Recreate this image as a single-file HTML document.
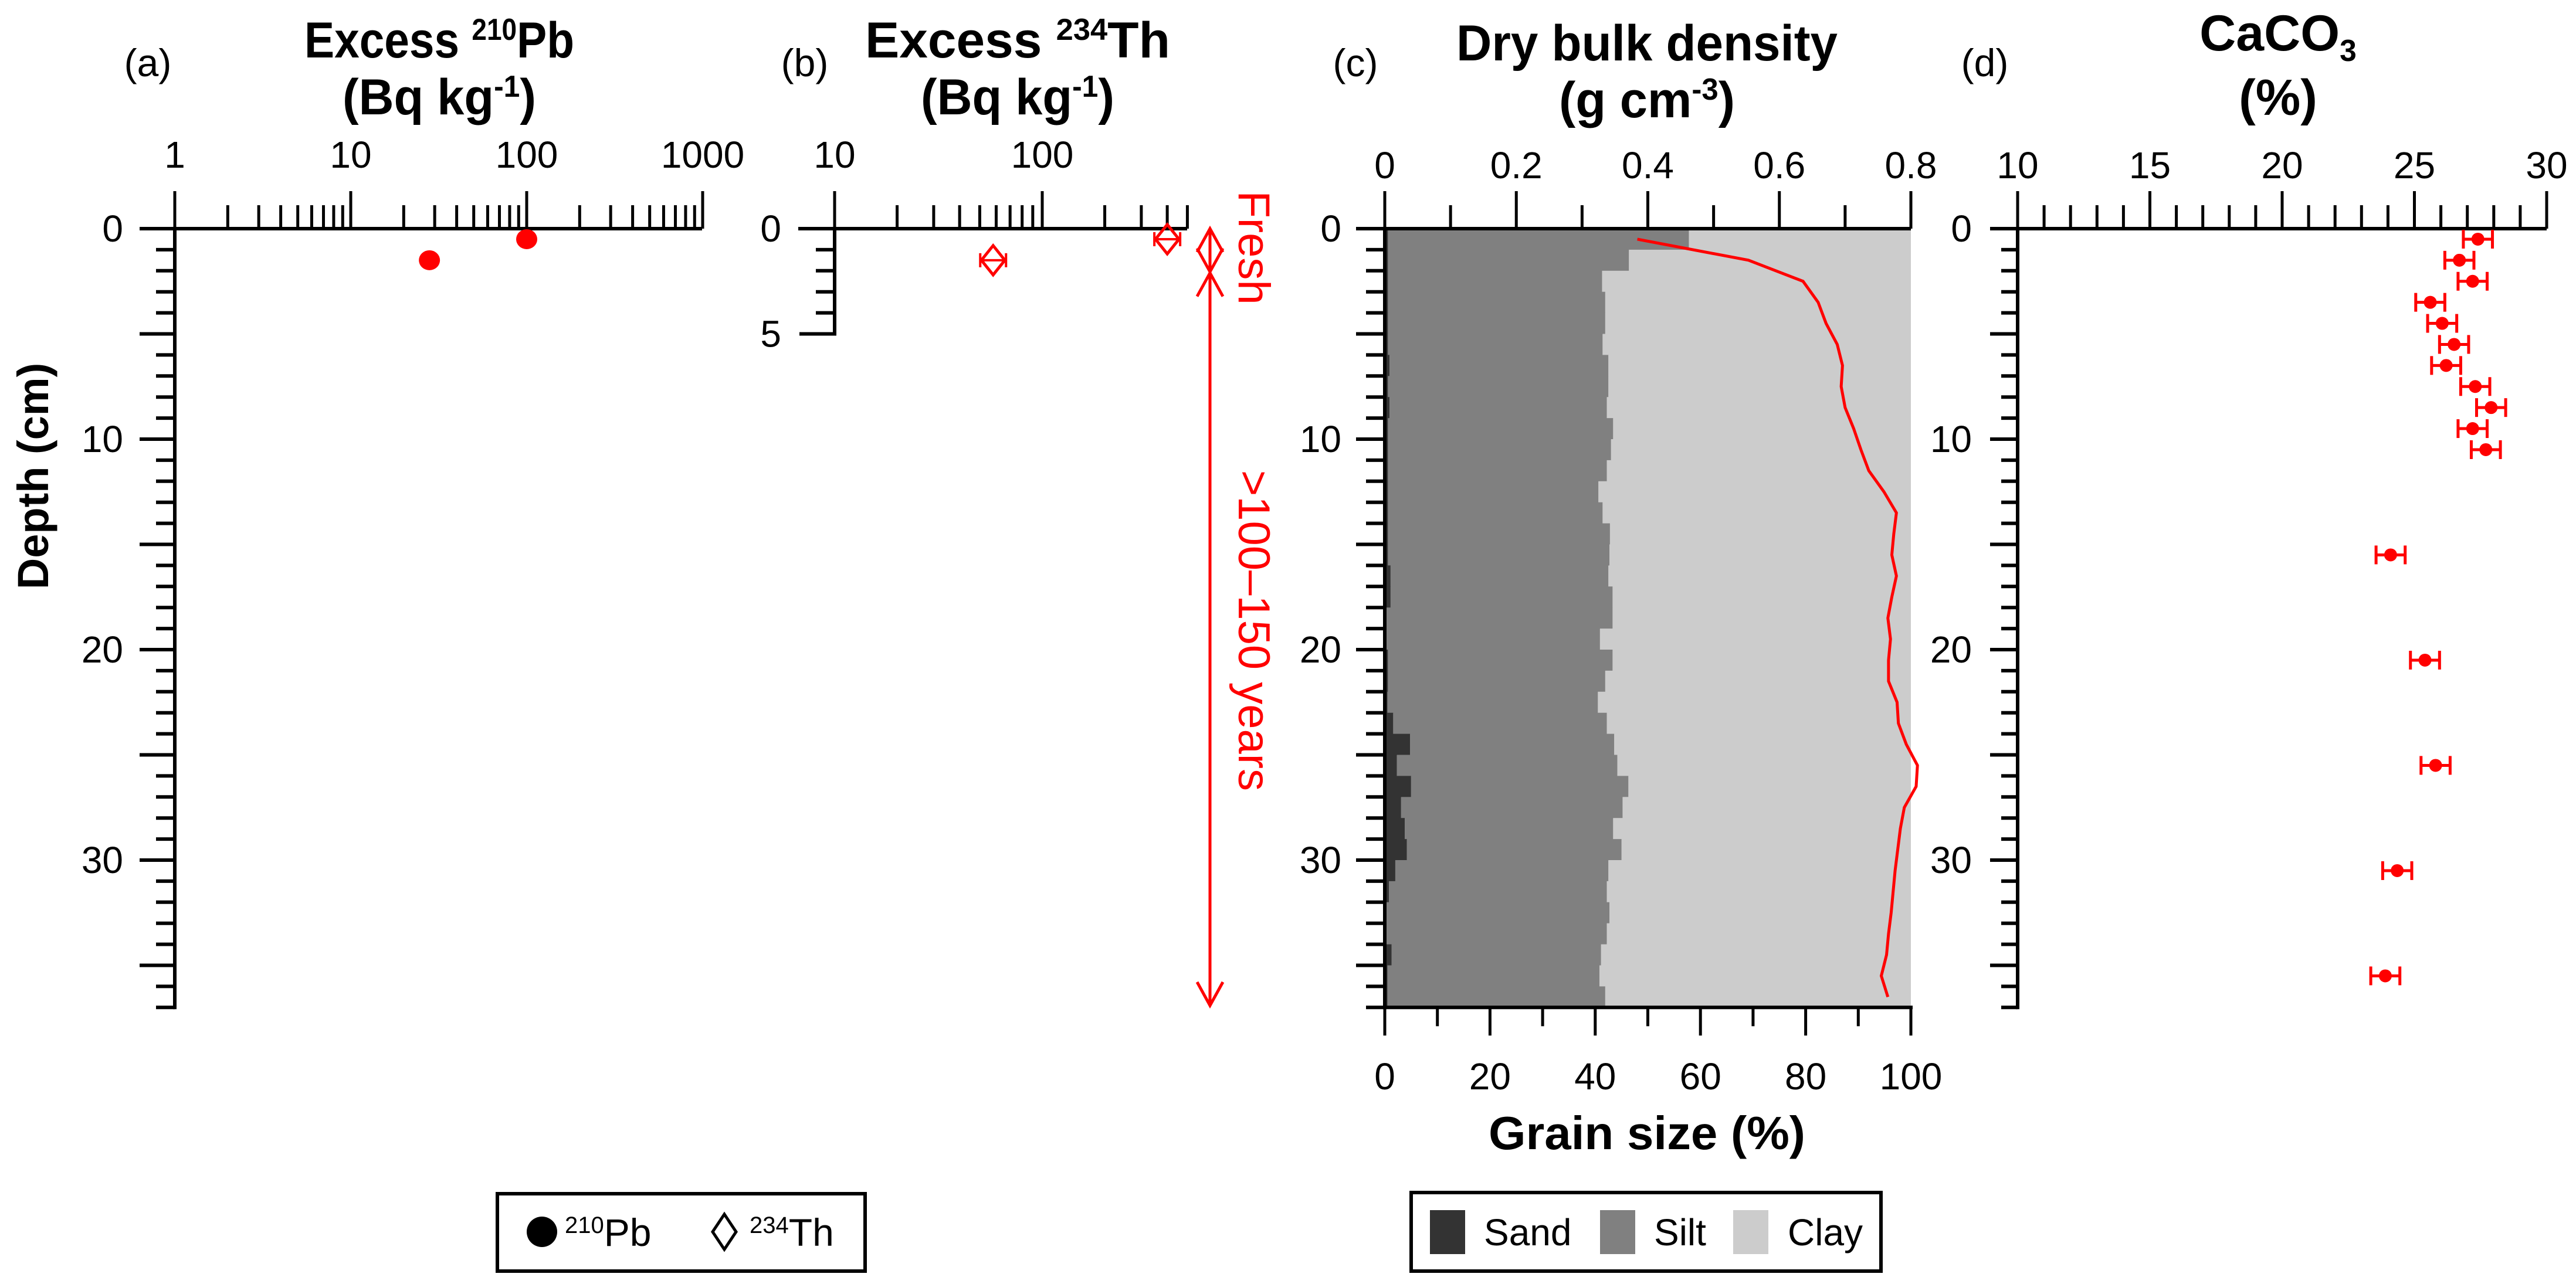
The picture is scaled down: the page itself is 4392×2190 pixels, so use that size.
<!DOCTYPE html>
<html><head><meta charset="utf-8"><style>
html,body{margin:0;padding:0;background:#fff}
svg{display:block}
text{font-family:"Liberation Sans",Arial,sans-serif}
</style></head><body>
<svg id="chart" xmlns="http://www.w3.org/2000/svg" width="4392" height="2190" viewBox="0 0 4392 2190">
<rect width="4392" height="2190" fill="#fff"/>
<g id="g"></g>
</svg>
<script>
// ---- data ----
const pbDepth = [0.5, 1.5];
const pbValue = [100, 28];
const thDepth = [0.5, 1.5];
const thValue = [400, 58];
const layerTop = [0,1,2,3,4,5,6,7,8,9,10,11,12,13,14,15,16,17,18,19,20,21,22,23,24,25,26,27,28,29,30,31,32,33,34,35,36];
const sandPct = [0.6,0.6,0.6,0.6,0.6,0.6,0.9,0.6,0.9,0.6,0.6,0.6,0.6,0.6,0.6,0.6,1.1,1.1,0.3,0.3,0.6,0.6,0.5,1.6,4.8,2.3,5.0,3.1,3.8,4.2,2.0,0.8,0.3,0.3,1.3,0.5,0.5];
const sandSiltPct = [57.8,46.4,41.3,41.9,41.9,41.4,42.5,42.5,42.2,43.4,43.0,42.2,40.6,41.4,42.8,42.7,42.5,43.3,43.3,40.9,43.3,41.9,40.5,42.2,43.6,44.2,46.3,45.2,43.4,45.0,42.5,42.2,42.7,42.2,41.1,40.8,41.9];
const dbdDepth = [0.5,1.5,2.5,3.5,4.5,5.5,6.5,7.5,8.5,9.5,10.5,11.5,12.5,13.5,14.5,15.5,16.5,17.5,18.5,19.5,20.5,21.5,22.5,23.5,24.5,25.5,26.5,27.5,28.5,29.5,30.5,31.5,32.5,33.5,34.5,35.5,36.5];
const dbdValue = [0.384,0.553,0.636,0.659,0.671,0.688,0.696,0.694,0.700,0.713,0.724,0.736,0.759,0.778,0.774,0.771,0.778,0.771,0.765,0.769,0.766,0.766,0.779,0.781,0.793,0.810,0.808,0.790,0.784,0.780,0.776,0.773,0.770,0.766,0.763,0.755,0.765];
const caDepth = [0.5,1.5,2.5,3.5,4.5,5.5,6.5,7.5,8.5,9.5,10.5,15.5,20.5,25.5,30.5,35.5];
const caValue = [27.4,26.7,27.2,25.6,26.05,26.5,26.2,27.3,27.9,27.2,27.7,24.1,25.4,25.8,24.35,23.9];
const caErr = [0.55,0.55,0.55,0.55,0.55,0.55,0.55,0.55,0.55,0.55,0.55,0.55,0.55,0.55,0.55,0.55];
const depthMajor = [0,10,20,30];
const pbTicks = ["1","10","100","1000"];
const thTicks = ["10","100"];
const dbdTicks = ["0","0.2","0.4","0.6","0.8"];
const grainTicks = ["0","20","40","60","80","100"];
const caTicks = ["10","15","20","25","30"];

// ---- scales ----
const Y0 = 390, YPC = 35.9, DMAX = 37;
const yD = d => Y0 + d*YPC;
const xPb = v => 298 + Math.log10(v)*300;
const xTh = v => 1423 + (Math.log10(v)-1)*354;
const cL = 2361, cR = 3258;
const xDbd = v => cL + v/0.8*(cR-cL);
const xGr = v => cL + v/100*(cR-cL);
const dL = 3440, dR = 4342;
const xCa = v => dL + (v-10)/20*(dR-dL);

const NS = "http://www.w3.org/2000/svg";
const root = document.getElementById('g');
function mk(tag, attrs, parent) {
  const e = document.createElementNS(NS, tag);
  for (const k in attrs) e.setAttribute(k, attrs[k]);
  (parent||root).appendChild(e);
  return e;
}
function line(x1,y1,x2,y2,stroke,w,parent){return mk('line',{x1,y1,x2,y2,stroke,'stroke-width':w},parent);}
function txt(s,x,y,size,anchor,weight,fill,parent){
  const t = mk('text',{x,y,'font-size':size,'text-anchor':anchor||'middle','font-weight':weight||'normal',fill:fill||'#000'},parent);
  t.textContent = s; return t;
}
function grp(name){const g=mk('g',{});return g;}

function depthAxis(name, ax, maxD, majorLen, minorLen, labelRight, labels){
  const g = grp(name);
  line(ax, Y0-3, ax, yD(maxD)+3, '#000', 6, g);
  for (let d=0; d<=maxD; d++){
    const major = d%5===0;
    line(ax - (major?majorLen:minorLen), yD(d), ax, yD(d), '#000', 6, g);
  }
  labels.forEach(d=>{ txt(String(d), labelRight, yD(d)+22, 64, 'end', 'normal', '#000', g); });
}
function title(lines, name){
  const g = grp(name);
  lines.forEach(L=>{
    const t = mk('text',{x:L.x,y:L.y,'font-size':L.fs,'text-anchor':'middle','font-weight':'bold'},g);
    L.parts.forEach(p=>{
      const ts = mk('tspan',{},t);
      if (p.small) ts.setAttribute('font-size', L.fs*0.6);
      if (p.dy) ts.setAttribute('dy', p.dy);
      ts.textContent = p.t;
    });
    if (L.len){ t.setAttribute('textLength', L.len); t.setAttribute('lengthAdjust','spacingAndGlyphs'); }
  });
}

// ---------- Panel a ----------
{
  const g = grp('panel-a-axes');
  line(238, Y0, 1197, Y0, '#000', 6, g);
  for (let dec=0; dec<3; dec++){
    for (let m=1; m<=10; m++){
      const v = Math.pow(10,dec)*m;
      const major = m===1||m===10;
      line(xPb(v), Y0, xPb(v), Y0-(major?64:40), '#000', 5, g);
    }
  }
  [1,10,100,1000].forEach((v,i)=>txt(pbTicks[i], xPb(v), 286, 64, 'middle','normal','#000',g));
  depthAxis('panel-a-depth-axis', 298, DMAX, 60, 32, 210, depthMajor);
}
title([{x:749,y:98,fs:86,len:460,parts:[{t:'Excess '},{t:'210',small:true,dy:-30},{t:'Pb',dy:30}]},
       {x:749,y:195,fs:86,len:330,parts:[{t:'(Bq kg'},{t:'-1',small:true,dy:-30},{t:')',dy:30}]}],'panel-a-title');
txt('(a)',252,130,66,'middle','normal');

{
  const g = grp('pb210-series');
  pbDepth.forEach((d,i)=>{
    const c = mk('ellipse',{cx:xPb(pbValue[i]),cy:yD(d),rx:18,ry:17,fill:'#ff0000'},g);
    
    
  });
}

// ---------- Panel b ----------
{
  const g = grp('panel-b-axes');
  line(1361, Y0, 2024, Y0, '#000', 6, g);
  for (let m=1; m<=10; m++){ line(xTh(10*m), Y0, xTh(10*m), Y0-(m===1||m===10?64:40), '#000',5,g); }
  for (let m=2; m<=5; m++){ line(xTh(100*m), Y0, xTh(100*m), Y0-40, '#000',5,g); }
  [10,100].forEach((v,i)=>txt(thTicks[i], xTh(v), 286, 64,'middle','normal','#000',g));
  depthAxis('panel-b-depth-axis', 1423, 5, 60, 32, 1332, [0,5]);
}
title([{x:1735,y:98,fs:86,len:520,parts:[{t:'Excess '},{t:'234',small:true,dy:-30},{t:'Th',dy:30}]},
       {x:1735,y:195,fs:86,len:330,parts:[{t:'(Bq kg'},{t:'-1',small:true,dy:-30},{t:')',dy:30}]}],'panel-b-title');
txt('(b)',1372,130,66,'middle','normal');
{
  const g = grp('th234-series');
  thDepth.forEach((d,i)=>{
    const x = xTh(thValue[i]), y = yD(d);
    const p = mk('path',{d:`M${x-20},${y} L${x},${y-25} L${x+20},${y} L${x},${y+25} Z`,fill:'none',stroke:'#ff0000','stroke-width':5},g);
    
    
    line(x-22,y,x+22,y,'#ff0000',4,g);
    line(x-22,y-12,x-22,y+12,'#ff0000',4,g);
    line(x+22,y-12,x+22,y+12,'#ff0000',4,g);
  });
}
{
  const g = grp('age-annotation');
  const ax = 2063, yTop = yD(0), yMid = yD(2.05), yBot = 1715;
  line(ax, yTop, ax, yBot, '#ff0000', 5, g);
  const head = (y,dir)=>mk('path',{d:`M${ax-22},${y+dir*40} L${ax},${y} L${ax+22},${y+dir*40}`,fill:'none',stroke:'#ff0000','stroke-width':5},g);
  head(yTop,1); head(yMid,-1); head(yMid+2,1); head(yBot,-1);
  const f = txt('Fresh',0,0,76,'middle','normal','#ff0000',g);
  f.setAttribute('transform',`translate(2112,${(335+510)/2}) rotate(90)`);
  
  const a = txt('>100\u2013150 years',0,0,76,'middle','normal','#ff0000',g);
  a.setAttribute('transform',`translate(2112,${(833+1318)/2}) rotate(90)`);
  
}

// ---------- Panel c ----------
{
  const g = grp('grain-size-bars');
  layerTop.forEach((d,i)=>{
    const y1 = yD(d), y2 = Math.min(yD(d+1), yD(DMAX));
    const clay = mk('rect',{x:xGr(sandSiltPct[i]),y:y1,width:xGr(100)-xGr(sandSiltPct[i]),height:y2-y1+0.5,fill:'#cccccc'},g);
    
    
    const silt = mk('rect',{x:xGr(sandPct[i]),y:y1,width:xGr(sandSiltPct[i])-xGr(sandPct[i]),height:y2-y1+0.5,fill:'#808080'},g);
    
    
    const sand = mk('rect',{x:xGr(0),y:y1,width:xGr(sandPct[i])-xGr(0),height:y2-y1+0.5,fill:'#333333'},g);
    
    
  });
}
{
  const g = grp('dry-bulk-density-line');
  const pts = dbdDepth.map((d,i)=>`${xDbd(dbdValue[i])},${yD(d)}`).join(' ');
  mk('polyline',{points:pts,fill:'none',stroke:'#ff0000','stroke-width':5},g);
}
{
  const g = grp('panel-c-axes');
  line(cL-49, Y0, cR, Y0, '#000', 6, g);
  for (let k=0;k<=8;k++){ line(xDbd(k/10), Y0, xDbd(k/10), Y0-(k%2===0?64:40),'#000',5,g); }
  [0,0.2,0.4,0.6,0.8].forEach((v,i)=>txt(dbdTicks[i], xDbd(v), 304, 64,'middle','normal','#000',g));
  depthAxis('panel-c-depth-axis', cL, DMAX, 49, 32, 2287, depthMajor);
  const yb = yD(DMAX);
  line(cL-3, yb, cR+3, yb, '#000', 6, g);
  for (let k=0;k<=10;k++){ line(xGr(k*10), yb, xGr(k*10), yb+(k%2===0?48:32),'#000',5,g); }
  [0,20,40,60,80,100].forEach((v,i)=>txt(grainTicks[i], xGr(v), 1858, 64,'middle','normal','#000',g));
}
title([{x:2808,y:103,fs:86,len:650,parts:[{t:'Dry bulk density'}]},
       {x:2808,y:200,fs:86,len:300,parts:[{t:'(g cm'},{t:'-3',small:true,dy:-30},{t:')',dy:30}]}],'panel-c-title');
title([{x:2808,y:1960,fs:80,len:540,parts:[{t:'Grain size (%)'}]}],'grain-size-axis-title');
txt('(c)',2311,130,66,'middle','normal');

// ---------- Panel d ----------
{
  const g = grp('panel-d-axes');
  line(dL-47, Y0, dR, Y0, '#000', 6, g);
  for (let v=10; v<=30; v++){ line(xCa(v), Y0, xCa(v), Y0-(v%5===0?64:40),'#000',5,g); }
  [10,15,20,25,30].forEach((v,i)=>txt(caTicks[i], xCa(v), 304, 64,'middle','normal','#000',g));
  depthAxis('panel-d-depth-axis', dL, DMAX, 47, 28, 3362, depthMajor);
}
title([{x:3884,y:86,fs:86,parts:[{t:'CaCO'},{t:'3',small:true,dy:18},{t:'',dy:-18}]},
       {x:3884,y:196,fs:86,parts:[{t:'(%)'}]}],'panel-d-title');
txt('(d)',3384,130,66,'middle','normal');
{
  const g = grp('caco3-series');
  caDepth.forEach((d,i)=>{
    const x = xCa(caValue[i]), y = yD(d), e = xCa(caValue[i]+caErr[i]) - x;
    line(x-e,y,x+e,y,'#ff0000',5,g);
    line(x-e,y-16,x-e,y+16,'#ff0000',5,g);
    line(x+e,y-16,x+e,y+16,'#ff0000',5,g);
    const c = mk('circle',{cx:x,cy:y,r:11,fill:'#ff0000'},g);
    
    
  });
}

{
  const t = txt('Depth (cm)',0,0,74,'middle','bold');
  t.setAttribute('transform','translate(82,812) rotate(-90)');
  
}

{
  const g = grp('legend-isotopes');
  mk('rect',{x:848,y:2036,width:627,height:132,fill:'#fff',stroke:'#000','stroke-width':6},g);
  mk('ellipse',{cx:924,cy:2101,rx:26,ry:26,fill:'#000'},g);
  const t1 = mk('text',{x:963,y:2125,'font-size':66},g);
  const s1 = mk('tspan',{'font-size':40,dy:-22},t1); s1.textContent='210';
  const s2 = mk('tspan',{dy:22},t1); s2.textContent='Pb';
  mk('path',{d:'M1235,2071 L1255,2101 L1235,2131 L1215,2101 Z',fill:'none',stroke:'#000','stroke-width':5},g);
  const t2 = mk('text',{x:1278,y:2125,'font-size':66},g);
  const s3 = mk('tspan',{'font-size':40,dy:-22},t2); s3.textContent='234';
  const s4 = mk('tspan',{dy:22},t2); s4.textContent='Th';
}
{
  const g = grp('legend-grain-size');
  mk('rect',{x:2406,y:2034,width:801,height:134,fill:'#fff',stroke:'#000','stroke-width':6},g);
  const items = [['Sand','#333333',2438,2530],['Silt','#808080',2728,2820],['Clay','#cccccc',2955,3048]];
  items.forEach(it=>{
    mk('rect',{x:it[2],y:2064,width:60,height:75,fill:it[1]},g);
    txt(it[0], it[3], 2124, 64, 'start','normal','#000',g);
  });
}
</script>
</body></html>
